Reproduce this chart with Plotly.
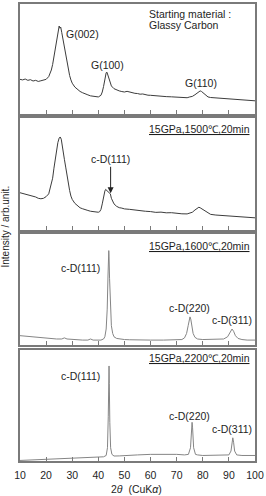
import plotly.graph_objects as go

# ---------------- data (2θ in degrees, intensity in % of panel height) ----------------
x_glassy = [10, 11, 12, 13, 14, 15, 16, 17, 18, 19, 20, 21, 22, 22.5, 23, 23.5, 24, 24.5, 25, 25.3, 25.6,
            26, 26.5, 27, 27.5, 28, 28.5, 29, 29.5, 30, 31, 32, 33, 34, 35, 36, 37, 38, 39, 40, 41, 41.5,
            42, 42.5, 43, 43.3, 43.6, 44, 44.5, 45, 46, 47, 48, 49, 50, 51, 52, 53, 54, 55, 56, 57, 58,
            59, 60, 62, 64, 66, 68, 70, 72, 74, 75, 76, 77, 78, 79, 79.5, 80, 81, 82, 83, 85, 87, 89, 91,
            93, 95, 97, 100]
y_glassy = [31.5, 31, 31.8, 30.6, 31.2, 30, 30.6, 29.6, 30.2, 30.6, 31.5, 34, 40, 45, 52, 60, 68, 75, 80, 78, 79,
            74, 67, 61, 56, 48, 41, 35, 31, 28, 24.5, 22.4, 20.5, 19.3, 18, 17.4, 16.5, 16.3, 15.6, 15.5, 17, 20,
            25, 32, 37.5, 38, 36, 32, 28, 25.5, 23, 21.8, 21, 20.4, 20, 20.6, 19.8, 19.6, 18.8, 18.6, 18, 18.2, 17.4,
            17.1, 17, 16.4, 16.2, 15.8, 15.6, 15.3, 15.1, 14.8, 15.5, 16, 17.5, 19.5, 21, 20.5, 19.5, 17, 15.5, 15, 14.6,
            14.4, 14.1, 14, 13.4, 13.1, 12.6, 12]

x_1500 = [10, 11, 12, 13, 14, 15, 16, 17, 18, 19, 20, 21, 22, 22.5, 23, 23.5, 24, 24.5, 25, 25.4, 25.8, 26.2,
          26.6, 27, 27.5, 28, 28.5, 29, 29.5, 30, 31, 32, 33, 34, 35, 36, 37, 38, 39, 40, 40.5, 41, 41.5, 42,
          42.5, 42.8, 43.2, 43.7, 44.2, 44.6, 45, 45.5, 46, 47, 48, 49, 50, 52, 54, 56, 58, 60, 62, 64, 66,
          68, 70, 72, 74, 75, 76, 77, 78, 78.5, 79, 80, 81, 82, 83, 85, 87, 89, 91, 93, 95, 97, 100]
y_1500 = [33, 32.4, 32, 31.2, 30.4, 30, 29.2, 28, 27.6, 28, 29.5, 32, 40, 46, 55, 63, 71, 78, 82, 83, 81, 76,
          69, 63, 56, 48, 41, 35, 30, 27, 23.5, 21.2, 19.5, 18.6, 17.6, 17.1, 16.4, 16.1, 15.5, 15.5, 16, 18, 23, 30,
          34.5, 36, 35, 33.5, 33, 32, 28, 25, 23, 20.8, 19.6, 19.2, 18.5, 18.1, 17.4, 17.1, 16.4, 16.1, 15.4, 15.6, 15,
          15.1, 14.5, 14.1, 14, 14.5, 15.5, 17.5, 19.5, 20, 19.5, 18, 16, 14.5, 13.6, 13, 12.6, 12.4, 12.1, 11.8, 11.5, 11, 10.5]

x_1600 = [10, 12, 14, 16, 18, 20, 22, 24, 26, 27, 28, 30, 32, 34, 36, 37, 38, 40, 41, 42, 42.5, 43, 43.4,
          43.7, 43.9, 44.0, 44.1, 44.3, 44.6, 45, 45.5, 46, 47, 48, 50, 52, 55, 60, 65, 70, 72, 73, 73.8,
          74.4, 74.8, 75.1, 75.4, 75.8, 76.3, 77, 78, 80, 83, 86, 88, 89.5, 90.5, 91.2, 91.8, 92.5, 93.5,
          95, 97, 100]
y_1600 = [8, 7.5, 7, 6.5, 6, 5.6, 5.2, 5, 5, 6, 5, 4.5, 4.3, 4, 4, 5, 4, 4, 4, 5, 7, 14, 32,
          62, 80, 85, 80, 60, 32, 17, 10, 7, 5.5, 5, 4.5, 4.3, 4, 4, 4, 4, 4.5, 6, 10,
          17, 23, 25, 23, 17, 10, 6.5, 5, 4.5, 4.5, 4.5, 5, 7, 10.5, 14, 12, 8, 5.5,
          4.5, 4, 4]

x_2200 = [10, 15, 20, 25, 30, 35, 40, 42, 43, 43.5, 43.8, 44.0, 44.1, 44.2, 44.4, 44.7, 45.2, 46, 48, 50,
          55, 60, 65, 70, 73, 74.5, 75.3, 75.7, 75.9, 76.1, 76.5, 77.2, 78, 80, 85, 88, 90, 90.8, 91.3,
          91.5, 91.8, 92.2, 93, 95, 100]
y_2200 = [0.5, 1, 1.6, 2, 2.6, 3, 3.6, 3.8, 5, 12, 40, 70, 86, 70, 35, 12, 6, 4.5, 4.6, 5,
          5.5, 6, 6.2, 6, 5.5, 6, 12, 30, 35, 30, 12, 6, 5.5, 5, 5, 5, 5.5, 9, 18,
          21, 17, 9, 5.5, 5, 5]

x_ticks = [10, 20, 30, 40, 50, 60, 70, 80, 90, 100]

# ---------------- figure ----------------
FONT = "Liberation Sans, Arial, sans-serif"
TXT = "#1e1e1e"
BORDER = "#7a7a7a"
FS = 10.5

domains = [[0.7593, 1.0], [0.5065, 0.7505], [0.2549, 0.4967], [0.0, 0.2418]]
series = [(x_glassy, y_glassy, "#3c3c3c"), (x_1500, y_1500, "#3c3c3c"),
          (x_1600, y_1600, "#858585"), (x_2200, y_2200, "#858585")]

fig = go.Figure()
for i, (xs, ys, col) in enumerate(series):
    n = "" if i == 0 else str(i + 1)
    fig.add_trace(go.Scatter(x=xs, y=ys, mode="lines", line=dict(color=col, width=1),
                             xaxis="x" + n, yaxis="y" + n, showlegend=False, hoverinfo="skip"))
    fig.layout["xaxis" + n] = dict(
        range=[10, 100], tickvals=x_ticks, ticks="inside", ticklen=4, tickwidth=1, tickcolor=BORDER,
        showticklabels=(i == 3), showline=True, linecolor=BORDER, linewidth=1.5, mirror=True,
        showgrid=False, zeroline=False, anchor="y" + n, domain=[0, 1],
        ticklabeloverflow="allow", ticklabelstandoff=4,
        tickfont=dict(family=FONT, size=FS, color=TXT),
        **({} if i == 0 else {"matches": "x"}))
    fig.layout["yaxis" + n] = dict(
        range=[0, 100], domain=domains[i], showticklabels=False, ticks="", showline=True,
        linecolor=BORDER, linewidth=1.5, mirror=True, showgrid=False, zeroline=False,
        anchor="x" + n)

ann = []
def A(text, x, y, n, xanchor="center", **kw):
    d = dict(text=text, x=x, y=y, xref="x" + n, yref="y" + n, xanchor=xanchor, yanchor="middle",
             showarrow=False, font=dict(family=FONT, size=FS, color=TXT))
    d.update(kw)
    ann.append(d)

# panel 1
A("Starting material :", 58.75, 90.5, "", xanchor="left")
A("Glassy Carbon", 58.75, 80.5, "", xanchor="left")
A("G(002)", 34.0, 72.9, "")
A("G(100)", 43.6, 44.8, "")
A("G(110)", 79.4, 28.5, "")
# panel 2
A("<u>15GPa,1500℃,20min</u>", 58.75, 90.6, "2", xanchor="left")
A("c-D(111)", 44.7, 32.6, "2", showarrow=True, axref="x2", ayref="y2", ax=44.7, ay=63.0,
  arrowhead=2, arrowsize=1.2, arrowwidth=1, arrowcolor="#222", standoff=0)
# panel 3
A("<u>15GPa,1600℃,20min</u>", 58.75, 89.0, "3", xanchor="left")
A("c-D(111)", 33.1, 69.0, "3")
A("c-D(220)", 74.9, 33.0, "3")
A("c-D(311)", 91.2, 22.5, "3")
# panel 4
A("<u>15GPa,2200℃,20min</u>", 58.75, 92.8, "4", xanchor="left")
A("c-D(111)", 33.1, 76.5, "4")
A("c-D(220)", 74.9, 40.4, "4")
A("c-D(311)", 91.2, 28.6, "4")

# axis titles
ann.append(dict(text="Intensity / arb.unit.", x=-0.062, y=0.514, xref="paper", yref="paper",
                textangle=-90, showarrow=False, xanchor="center", yanchor="middle",
                font=dict(family=FONT, size=10, color=TXT)))
ann.append(dict(text="2<i>θ</i>  (CuK<i>α</i>)", x=0.494, y=-0.061, xref="paper", yref="paper",
                showarrow=False, xanchor="center", yanchor="middle",
                font=dict(family=FONT, size=FS, color=TXT)))

fig.update_layout(width=266, height=496, margin=dict(l=20, r=5, t=2, b=35),
                  paper_bgcolor="white", plot_bgcolor="white", annotations=ann)

fig.write_html("out.html", config={"displayModeBar": False})
